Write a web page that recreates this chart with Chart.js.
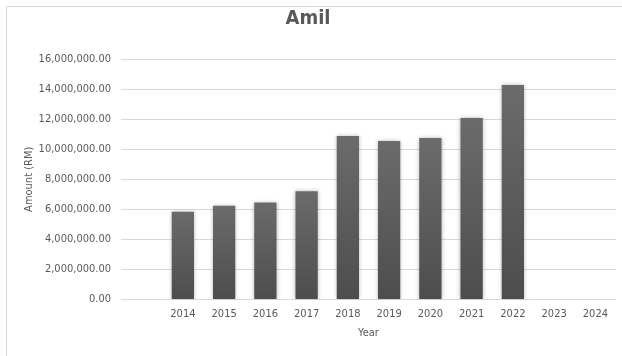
<!DOCTYPE html>
<html>
<head>
<meta charset="utf-8">
<script src="https://cdn.jsdelivr.net/npm/chart.js@4"></script>
<style>
  body { margin: 0; background: #fff; }
  #box { position: relative; width: 622px; height: 356px; }
</style>
</head>
<body>
<div id="box"><canvas id="amilChart" width="622" height="356"></canvas></div>
<script>
// data
const years = ['', '2014', '2015', '2016', '2017', '2018', '2019', '2020', '2021', '2022', '2023', '2024'];
const amounts = [null, 5850000, 6240000, 6450000, 7210000, 10880000, 10540000, 10740000, 12070000, 14270000, 0, 0];
const yTicks = [0, 2000000, 4000000, 6000000, 8000000, 10000000, 12000000, 14000000, 16000000];

const FONT = "'DejaVu Sans Condensed', 'Liberation Sans Narrow', sans-serif";
const TEXT = '#595959';

// light frame of the chart box (only left and top visible)
const framePlugin = {
  id: 'frame',
  beforeDraw(chart) {
    const c = chart.ctx;
    c.save();
    c.fillStyle = '#fff';
    c.fillRect(0, 0, chart.width, chart.height);
    c.strokeStyle = '#d9d9d9';
    c.lineWidth = 1;
    c.beginPath();
    c.moveTo(6.5, chart.height);
    c.lineTo(6.5, 6.5);
    c.lineTo(chart.width, 6.5);
    c.stroke();
    c.restore();
  }
};

// soft shadow round the bars
const shadowPlugin = {
  id: 'barShadow',
  beforeDatasetsDraw(chart) {
    const c = chart.ctx;
    c.save();
    c.shadowColor = 'rgba(0,0,0,0.28)';
    c.shadowBlur = 4;
    c.shadowOffsetX = 0;
    c.shadowOffsetY = 0;
  },
  afterDatasetsDraw(chart) {
    chart.ctx.restore();
  }
};

// each bar gets its own top-to-bottom gradient
function barFill(ctx) {
  const chart = ctx.chart;
  const v = ctx.raw;
  if (!chart.chartArea || !v) return '#5a5a5a';
  const y = chart.scales.y;
  const top = y.getPixelForValue(v);
  const base = y.getPixelForValue(0);
  const g = chart.ctx.createLinearGradient(0, top, 0, base);
  g.addColorStop(0, '#6b6b6b');
  g.addColorStop(1, '#4d4d4d');
  return g;
}

chart = new Chart(document.getElementById('amilChart'), {
  type: 'bar',
  data: {
    labels: years,
    datasets: [{
      label: 'Amil',
      data: amounts,
      backgroundColor: barFill,
      borderWidth: 0,
      barPercentage: 0.54,
      categoryPercentage: 1
    }]
  },
  options: {
    responsive: false,
    animation: false,
    layout: { padding: { left: 0, right: 6, top: 0, bottom: 16.5 } },
    plugins: {
      legend: { display: false },
      tooltip: { enabled: false },
      title: {
        display: true,
        text: 'Amil',
        color: TEXT,
        font: { family: FONT, size: 20, weight: 'bold' },
        padding: { top: 7, bottom: 28 }
      }
    },
    scales: {
      x: {
        grid: { display: false },
        border: { display: false },
        ticks: { color: TEXT, font: { family: FONT, size: 11 }, padding: 0, maxRotation: 0, autoSkip: false },
        title: { display: true, text: 'Year', color: TEXT, font: { family: FONT, size: 11 }, padding: { top: 5.5, bottom: 0 } }
      },
      y: {
        min: 0,
        max: 16000000,
        afterBuildTicks(scale) { scale.ticks = yTicks.map(v => ({ value: v })); },
        afterFit(scale) { scale.width = 121; },
        grid: { color: '#d9d9d9', lineWidth: 1, drawTicks: false },
        border: { display: false },
        ticks: {
          color: TEXT,
          font: { family: FONT, size: 11 },
          padding: 10,
          callback: v => v.toLocaleString('en-US', { minimumFractionDigits: 2, maximumFractionDigits: 2 })
        },
        title: { display: true, text: 'Amount (RM)', color: TEXT, font: { family: FONT, size: 11 }, padding: { top: 23, bottom: 0 } }
      }
    }
  },
  plugins: [framePlugin, shadowPlugin]
});
</script>
</body>
</html>
